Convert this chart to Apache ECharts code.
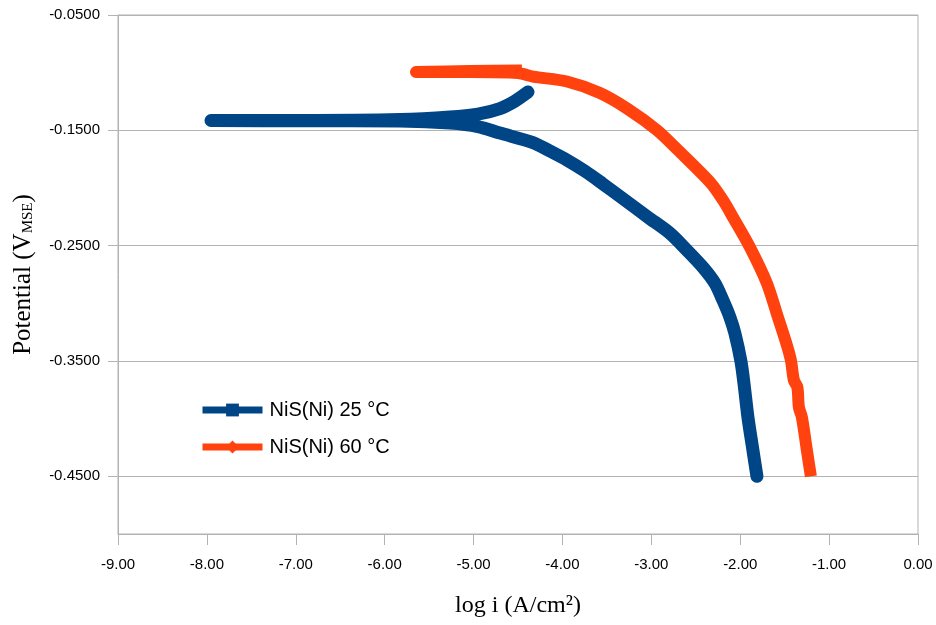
<!DOCTYPE html>
<html>
<head>
<meta charset="utf-8">
<script src="https://cdn.jsdelivr.net/npm/echarts@6/dist/echarts.min.js"></script>
<style>html,body{margin:0;padding:0;background:#fff}#c{width:936px;height:625px}</style>
</head>
<body>
<div id="c"></div>
<script>
// NiS(Ni) 25 °C : [log i, potential]
const blueLogI = [-1.812,-1.857,-1.913,-1.958,-1.992,-2.060,-2.116,-2.195,-2.285,-2.420,-2.600,-2.791,-3.038,-3.297,-3.556,-3.747,-3.949,-4.141,-4.332,-4.703,-4.951,-5.265,-5.828,-6.900,-7.954,-6.953,-5.828,-5.265,-4.951,-4.703,-4.534,-4.388];
const bluePot  = [-0.4500,-0.4274,-0.3988,-0.3693,-0.3502,-0.3259,-0.3120,-0.2973,-0.2825,-0.2687,-0.2539,-0.2392,-0.2253,-0.2105,-0.1958,-0.1854,-0.1758,-0.1680,-0.1606,-0.1524,-0.1467,-0.1437,-0.1420,-0.1417,-0.1415,-0.1415,-0.1407,-0.1385,-0.1359,-0.1311,-0.1246,-0.1168];
// NiS(Ni) 60 °C
const orangeLogI = [-1.205,-1.250,-1.306,-1.340,-1.357,-1.396,-1.430,-1.475,-1.576,-1.700,-1.891,-2.082,-2.195,-2.330,-2.701,-2.937,-3.263,-3.578,-3.949,-4.332,-4.501,-5.040,-5.648,-5.040,-4.456];
const orangePot  = [-0.4500,-0.4274,-0.3988,-0.3901,-0.3728,-0.3667,-0.3493,-0.3363,-0.3120,-0.2825,-0.2513,-0.2253,-0.2105,-0.1958,-0.1671,-0.1498,-0.1316,-0.1177,-0.1077,-0.1034,-0.1003,-0.0995,-0.0995,-0.0986,-0.0982];
const seriesNames = ['NiS(Ni) 25 °C', 'NiS(Ni) 60 °C'];
const yTicks = [-0.45, -0.35, -0.25, -0.15, -0.05];

const zip = (a, b) => a.map((v, i) => [v, b[i]]);
const chart = echarts.init(document.getElementById('c'), null, {renderer: 'canvas'});
const gridColor = '#b3b3b3';
chart.setOption({
  animation: false,
  backgroundColor: '#fff',
  grid: {left: 118, right: 18, top: 15, bottom: 91, show: true, borderColor: gridColor, borderWidth: 1,
         containLabel: false, outerBoundsMode: 'none'},
  legend: {
    orient: 'vertical', left: 199, top: 400, padding: 0, itemWidth: 60, itemHeight: 16, itemGap: 17,
    textStyle: {fontFamily: 'Liberation Sans', fontSize: 20, color: '#000', padding: [0, 0, 0, 2]},
    lineStyle: {width: 7, cap: 'butt'},
    data: seriesNames
  },
  xAxis: {
    type: 'value', min: -9, max: 0, interval: 1,
    name: 'log i (A/cm²)', nameLocation: 'middle', nameGap: 60,
    nameTextStyle: {fontFamily: 'Liberation Serif', fontSize: 24, color: '#000'},
    axisLine: {show: true, onZero: false, lineStyle: {color: gridColor}},
    axisTick: {show: true, length: 11, lineStyle: {color: gridColor}},
    axisLabel: {margin: 23, fontFamily: 'Liberation Sans', fontSize: 15, color: '#000', formatter: v => v.toFixed(2)},
    splitLine: {show: false}
  },
  yAxis: {
    type: 'value', min: -0.5, max: -0.05,
    name: 'Potential (V{sub|MSE})', nameLocation: 'middle', nameGap: 82, nameRotate: 90,
    nameTextStyle: {fontFamily: 'Liberation Serif', fontSize: 25, color: '#000',
      rich: {sub: {fontFamily: 'Liberation Serif', fontSize: 15, color: '#000', verticalAlign: 'bottom', padding: [10,0,0,0]}}},
    axisLine: {show: true, onZero: false, lineStyle: {color: gridColor}},
    axisTick: {show: true, length: 10, customValues: yTicks, lineStyle: {color: gridColor}},
    axisLabel: {margin: 18, fontFamily: 'Liberation Sans', fontSize: 15, color: '#000', customValues: yTicks, formatter: v => v.toFixed(4)},
    splitLine: {show: true, lineStyle: {color: gridColor, width: 1}}
  },
  series: [
    {name: seriesNames[0], type: 'line', data: zip(blueLogI, bluePot), showSymbol: false, symbol: 'rect', smooth: 0.3,
     color: '#004586', lineStyle: {width: 13, color: '#004586', cap: 'round', join: 'round'}, z: 2},
    {name: seriesNames[1], type: 'line', data: zip(orangeLogI, orangePot), showSymbol: false, symbol: 'diamond', smooth: 0.3,
     color: '#ff420e', lineStyle: {width: 12, color: '#ff420e', cap: 'butt', join: 'round'}, z: 3}
  ]
});
</script>
</body>
</html>
